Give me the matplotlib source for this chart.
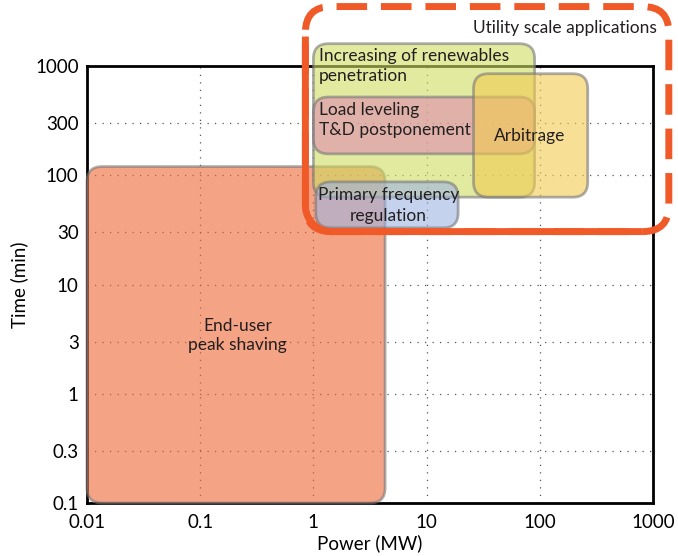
import numpy as np
import matplotlib.pyplot as plt
from matplotlib.patches import FancyBboxPatch
from matplotlib.transforms import IdentityTransform

plt.rcParams['font.family'] = ['Lato', 'DejaVu Sans']

# Application areas: (power min, power max) MW, (time min, time max) min
apps = ['End-user\npeak shaving',
        'Increasing of renewables\npenetration',
        'Load leveling\nT&D postponement',
        'Arbitrage',
        'Primary frequency\nregulation']
p_lo = [0.01, 1.0, 1.0, 26, 1.05]
p_hi = [4.3, 90, 90, 265, 19]
t_lo = [0.1, 63, 157, 63, 33]
t_hi = [120, 1600, 520, 850, 87]
fills = ['#EE6634', '#CFDC61', '#E08CB0', '#F2CB50', '#9EB4E3']

# Utility scale envelope
util_p = [0.85, 1380]
util_t = [30.5, 3500]

xticks = [0.01, 0.1, 1, 10, 100, 1000]
xlabels = ['0.01', '0.1', '1', '10', '100', '1000']
yticks = [0.1, 0.3, 1, 3, 10, 30, 100, 300, 1000]
ylabels = ['0.1', '0.3', '1', '3', '10', '30', '100', '300', '1000']

fig = plt.figure(figsize=(6.78, 5.56), dpi=100)
ax = fig.add_axes([0.1283, 0.0953, 0.8348, 0.786])
ax.set_xscale('log')
ax.set_yscale('log')
ax.set_xlim(0.01, 1000)
ax.set_ylim(0.1, 1000)
ax.set_xticks(xticks)
ax.set_xticklabels(xlabels)
ax.set_yticks(yticks)
ax.set_yticklabels(ylabels)
ax.minorticks_off()
ax.tick_params(length=0, labelsize=13.5)
ax.tick_params(axis='x', pad=8)
ax.tick_params(axis='y', pad=6)
ax.grid(True, linestyle=(0, (1, 5)), color='#555555', linewidth=0.9)
ax.set_axisbelow(True)
for s in ax.spines.values():
    s.set_linewidth(2)
ax.set_xlabel('Power (MW)', fontsize=13.5, labelpad=2)
ax.set_ylabel('Time (min)', fontsize=13.5, labelpad=5)


def to_px(x0, x1, y0, y1):
    (a, b), (c, d) = ax.transData.transform([(x0, y0), (x1, y1)])
    return a, b, c, d


def rounded(x0, x1, y0, y1, r, **kw):
    # box given in data coords, drawn in pixels so the corners stay round on log axes
    a, b, c, d = to_px(x0, x1, y0, y1)
    box = FancyBboxPatch((a, b), c - a, d - b,
                         boxstyle='round,pad=0,rounding_size=%g' % r,
                         transform=IdentityTransform(), clip_on=False, **kw)
    ax.add_artist(box)
    return box


for i in range(len(apps)):
    rounded(p_lo[i], p_hi[i], t_lo[i], t_hi[i], 15,
            facecolor=fills[i], edgecolor='#787878', alpha=0.6, linewidth=2,
            zorder=3)

text_kw = dict(fontsize=12.5, color='#231f20', zorder=5)
ax.text(0.215, 3.4, apps[0], ha='center', va='center', multialignment='center', **text_kw)
ax.text(1.12, 1000, apps[1], ha='left', va='center', linespacing=1.35, clip_on=False, **text_kw)
ax.text(1.12, 320, apps[2], ha='left', va='center', linespacing=1.35, **text_kw)
ax.text(82, 230, apps[3], ha='center', va='center', **text_kw)
ax.text(4.6, 53, apps[4], ha='center', va='center', multialignment='center',
        linespacing=1.35, **text_kw)

# utility envelope: dashed outline, solid along the left and bottom sides
red = '#F05A28'
R = 26
rounded(util_p[0], util_p[1], util_t[0], util_t[1], R,
        facecolor='none', edgecolor=red, linewidth=5,
        linestyle=(0, (4.4, 2)), zorder=6)
a, b, c, d = to_px(util_p[0], util_p[1], util_t[0], util_t[1])
ang = np.linspace(np.pi, 1.5 * np.pi, 20)
xs = np.concatenate([[a], a + R + R * np.cos(ang), [c - R]])
ys = np.concatenate([[d - R - 4], b + R + R * np.sin(ang), [b]])
ax.plot(xs, ys, color=red, linewidth=5, transform=IdentityTransform(),
        clip_on=False, zorder=6, solid_capstyle='butt')

ax.text(1080, 2250, 'Utility scale applications', ha='right', va='center',
        fontsize=12.5, color='#231f20', clip_on=False, zorder=6)

fig.savefig('out.png', dpi=100)
